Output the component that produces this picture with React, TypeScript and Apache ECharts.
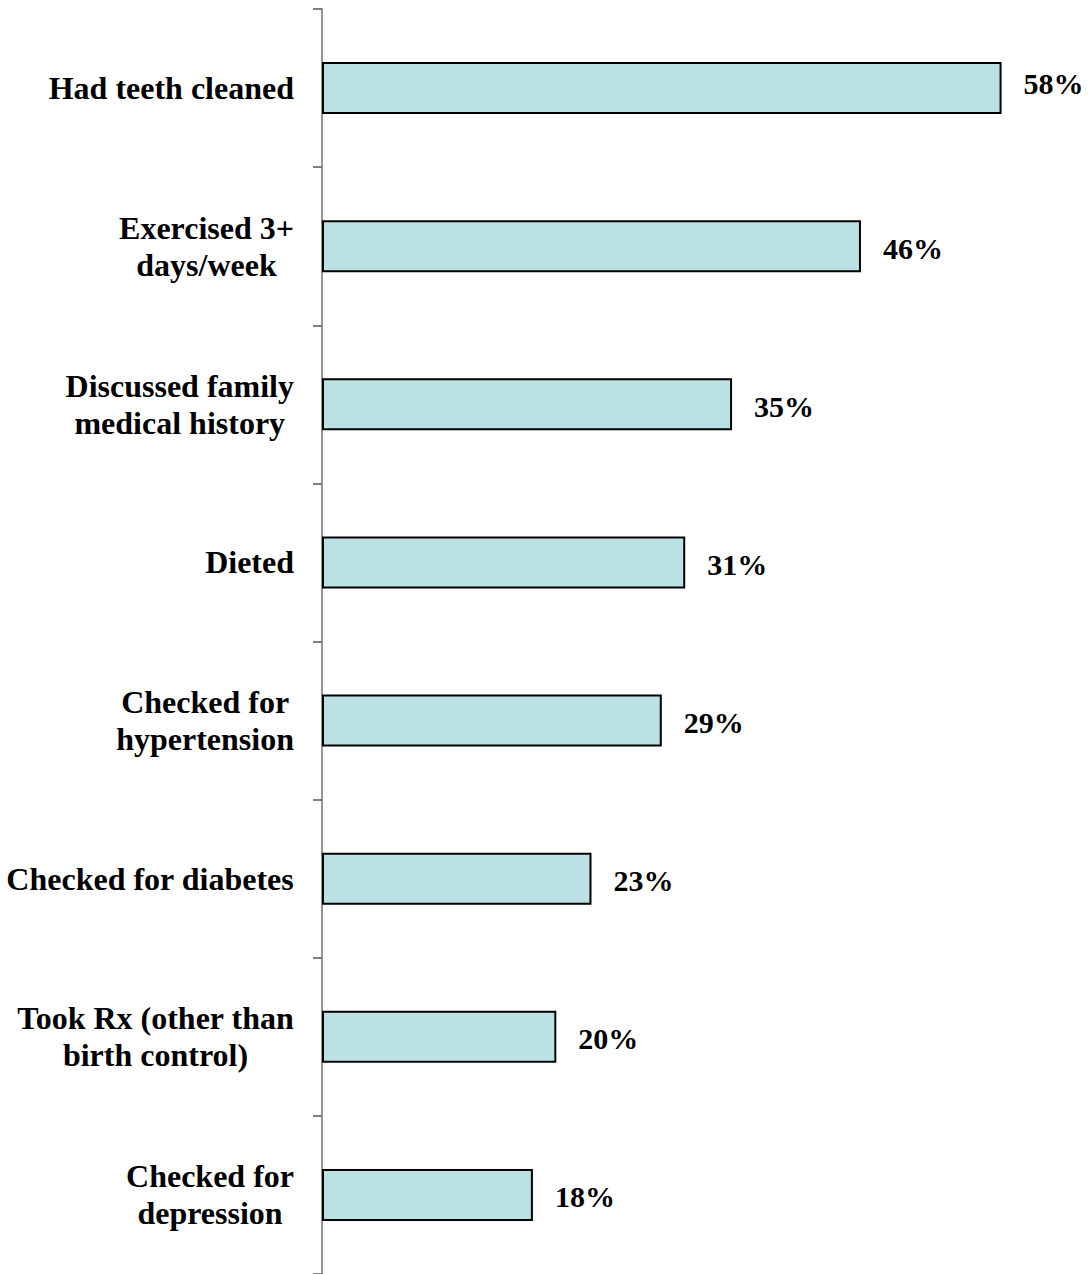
import React, { useEffect, useRef } from "react";
import * as echarts from "echarts";

const categories: string[] = [
  "Had teeth cleaned",
  "Exercised 3+\ndays/week",
  "Discussed family\nmedical history",
  "Dieted",
  "Checked for\nhypertension",
  "Checked for diabetes",
  "Took Rx (other than\nbirth control)",
  "Checked for\ndepression",
];

const values: number[] = [58, 46, 35, 31, 29, 23, 20, 18];

const FONT = "'Liberation Serif', 'Times New Roman', serif";

export default function App() {
  const ref = useRef<HTMLDivElement>(null);

  useEffect(() => {
    if (!ref.current) return;
    const chart = echarts.init(ref.current, null, { renderer: "svg" });
    const seriesData = values.map((v, i) =>
      i === 0 ? { value: v, label: { offset: [0, -5] } } : { value: v }
    );
    chart.setOption({
      animation: false,
      backgroundColor: "#ffffff",
      grid: { left: 322, right: 64, top: 9, bottom: -6, containLabel: false },
      xAxis: {
        type: "value",
        min: 0,
        max: 60,
        show: false,
      },
      yAxis: {
        type: "category",
        inverse: true,
        data: categories,
        axisLine: { show: true, lineStyle: { color: "#7a7a7a", width: 1.6 } },
        axisTick: { show: true, length: 9, lineStyle: { color: "#555555", width: 1.5 } },
        axisLabel: {
          margin: 28,
          color: "#000000",
          fontFamily: FONT,
          fontWeight: "bold",
          fontSize: 32,
          lineHeight: 37,
          formatter: (v: string) =>
            v
              .split("\n")
              .map((l) => "{c|" + l + "}")
              .join("\n"),
          rich: {
            c: {
              align: "center",
              color: "#000000",
              fontFamily: FONT,
              fontWeight: "bold",
              fontSize: 32,
              lineHeight: 37,
            },
          },
        },
        splitLine: { show: false },
      },
      series: [
        {
          type: "bar",
          data: seriesData,
          barWidth: 52,
          itemStyle: {
            color: "#BCE1E4",
            borderColor: "#000000",
            borderWidth: 2,
          },
          label: {
            show: true,
            position: "right",
            distance: 22,
            offset: [0, 2],
            formatter: "{c}%",
            color: "#000000",
            fontFamily: FONT,
            fontWeight: "bold",
            fontSize: 30,
          },
        },
      ],
    });
    return () => chart.dispose();
  }, []);

  return (
    <div
      ref={ref}
      style={{ position: "absolute", left: 0, top: 0, width: 1089, height: 1274 }}
    />
  );
}
